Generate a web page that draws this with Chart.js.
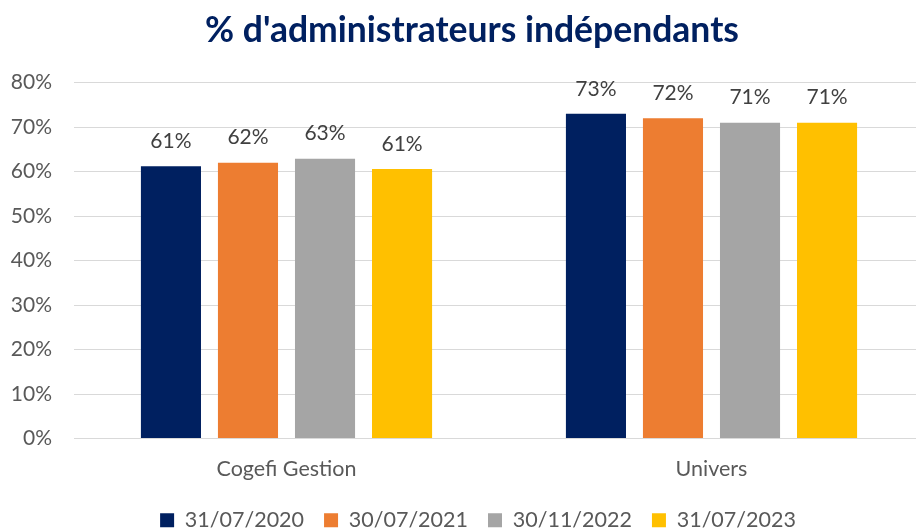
<!DOCTYPE html>
<html>
<head>
<meta charset="utf-8">
<script src="https://cdn.jsdelivr.net/npm/chart.js@4"></script>
<style>
  html, body { margin: 0; padding: 0; background: #fff; overflow: hidden; }
  #wrap { width: 945px; height: 529px; }
</style>
</head>
<body>
<div id="wrap"><canvas id="barsChart" width="945" height="529"></canvas></div>
<script>
/*--Data--*/
var categories = ["Cogefi Gestion", "Univers"];
var seriesLabels = ["31/07/2020", "30/07/2021", "30/11/2022", "31/07/2023"];
var values2020 = [0.612, 0.730];
var values2021 = [0.620, 0.720];
var values2022 = [0.629, 0.710];
var values2023 = [0.606, 0.710];
var yTicks = [0, 0.1, 0.2, 0.3, 0.4, 0.5, 0.6, 0.7, 0.8];
var colors = ["#002060", "#ED7D31", "#A5A5A5", "#FFC000"];
/*--------*/

var seriesValues = [values2020, values2021, values2022, values2023];
var FONT = "Lato, 'Open Sans', sans-serif";

var barValueLabels = {
  id: 'barValueLabels',
  afterDatasetsDraw: function(chart) {
    var ctx = chart.ctx;
    ctx.save();
    ctx.font = "21px " + FONT;
    ctx.fillStyle = "#404040";
    ctx.textAlign = "center";
    ctx.textBaseline = "middle";
    chart.data.datasets.forEach(function(ds, i) {
      chart.getDatasetMeta(i).data.forEach(function(bar, j) {
        ctx.fillText(Math.round(ds.data[j] * 100) + "%", bar.x, bar.y - 25);
      });
    });
    ctx.restore();
  }
};

// nudge title and legend a bit to the right, like the original
var shiftBoxes = {
  id: 'shiftBoxes',
  afterLayout: function(chart) {
    if (chart.titleBlock) { chart.titleBlock.left += 10; chart.titleBlock.right += 10; }
    if (chart.legend) { chart.legend.left += 16; chart.legend.right += 16; }
  }
};

var barsChart = new Chart('barsChart', {
  type: 'bar',
  data: {
    labels: categories,
    datasets: seriesLabels.map(function(lbl, i) {
      return {
        label: lbl,
        data: seriesValues[i],
        backgroundColor: colors[i],
        categoryPercentage: 0.725,
        barPercentage: 0.78
      };
    })
  },
  options: {
    responsive: false,
    animation: false,
    layout: { padding: { top: 6, right: 21, left: 0, bottom: -12 } },
    plugins: {
      tooltip: { enabled: false },
      title: {
        display: true,
        text: "% d'administrateurs indépendants",
        color: "#002060",
        font: { family: FONT, size: 35.5, weight: 'bold' },
        padding: { top: 3, bottom: 31 }
      },
      legend: {
        position: 'bottom',
        labels: {
          color: "#595959",
          font: { family: FONT, size: 21.5 },
          boxWidth: 14,
          boxHeight: 14,
          padding: 20
        }
      }
    },
    scales: {
      x: {
        afterFit: function(scale) { scale.height = 51; },
        grid: { display: false },
        border: { display: false },
        ticks: { color: "#595959", font: { family: FONT, size: 21.5 }, padding: 10 }
      },
      y: {
        min: 0,
        max: 0.8,
        afterBuildTicks: function(scale) {
          scale.ticks = yTicks.map(function(v) { return { value: v }; });
        },
        afterFit: function(scale) { scale.width = 74; },
        grid: { color: "#D9D9D9", lineWidth: 1, drawTicks: false },
        border: { display: false },
        ticks: {
          color: "#595959",
          font: { family: FONT, size: 21 },
          padding: 22,
          callback: function(v) { return Math.round(v * 100) + "%"; }
        }
      }
    }
  },
  plugins: [barValueLabels, shiftBoxes]
});
</script>
</body>
</html>
